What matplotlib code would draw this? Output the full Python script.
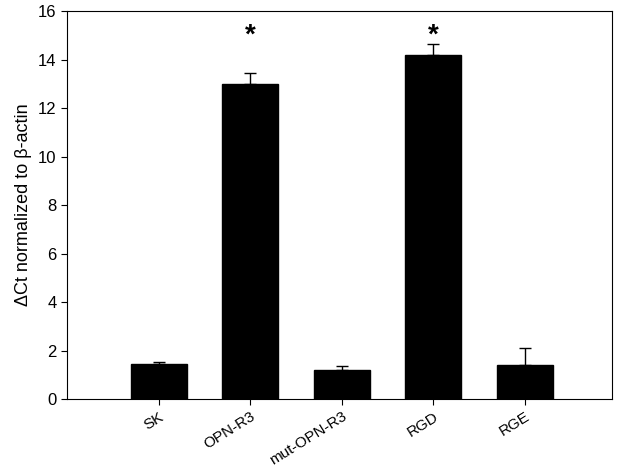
import matplotlib.pyplot as plt
import numpy as np

plt.rcParams["font.family"] = ["Liberation Sans", "DejaVu Sans"]

groups = ["SK", "OPN-R3", "mut-OPN-R3", "RGD", "RGE"]
delta_ct = [1.45, 13.0, 1.2, 14.17, 1.4]
sem = [0.07, 0.43, 0.15, 0.45, 0.7]
significant = [False, True, False, True, False]

fig = plt.figure(figsize=(6.29, 4.69), dpi=100)
ax = fig.add_axes([0.1065, 0.149, 0.8665, 0.8275])

x = np.arange(len(groups))
ax.bar(x, delta_ct, width=0.61, color="black", edgecolor="black")
ax.errorbar(x, delta_ct, yerr=[np.zeros(len(sem)), sem], fmt="none",
            ecolor="black", elinewidth=1.0, capsize=4, capthick=1.0)
for xi, sig in zip(x, significant):
    if sig:
        ax.text(xi, 15.0, "*", ha="center", va="center", fontsize=20, fontweight="bold")

ax.set_xlim(-1.0, 4.95)
ax.set_ylim(0, 16)
ax.set_yticks(range(0, 17, 2))
ax.set_xticks(x)
ax.set_xticklabels(groups, rotation=32, ha="right", rotation_mode="anchor", fontsize=11)
ax.tick_params(axis="y", labelsize=12, direction="out", length=4)
ax.tick_params(axis="x", direction="out", length=4)
ax.set_ylabel("ΔCt normalized to β-actin", fontsize=13)

fig.savefig("out.png", dpi=100)
